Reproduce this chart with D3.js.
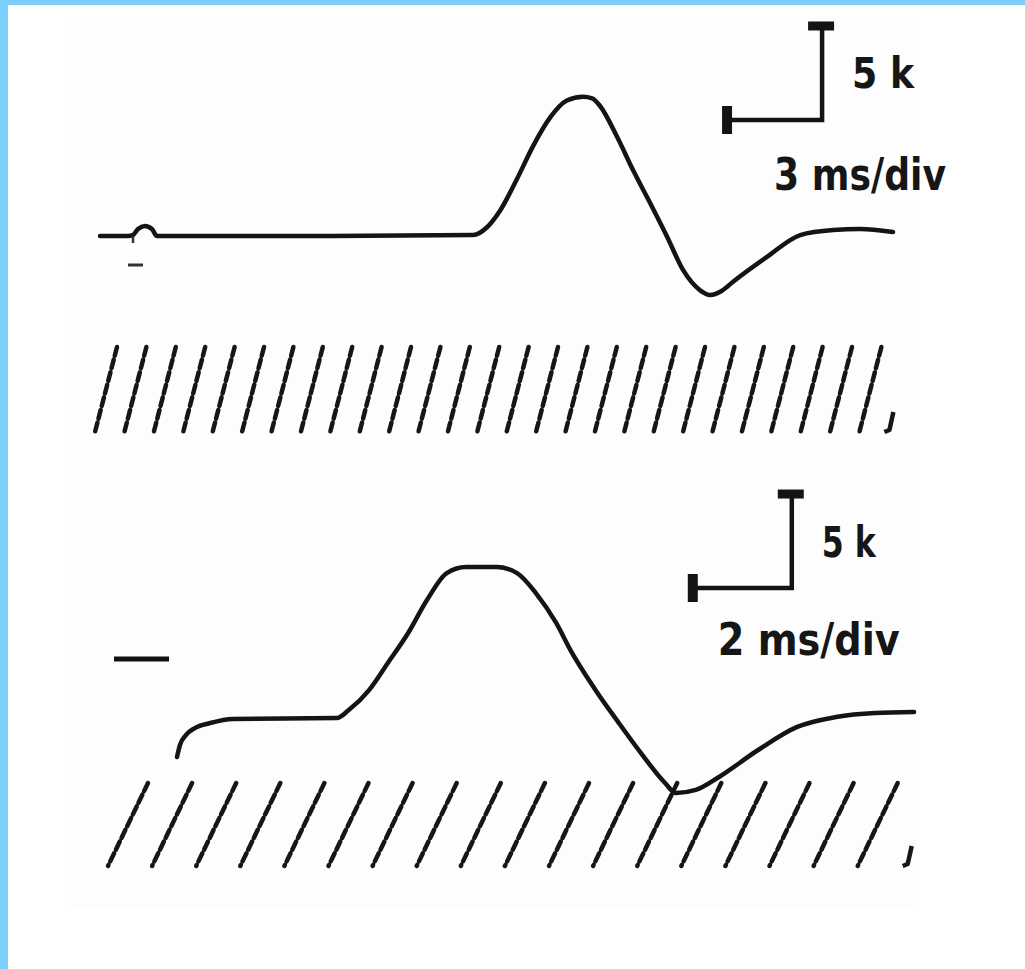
<!DOCTYPE html>
<html>
<head>
<meta charset="utf-8">
<script src="https://cdn.jsdelivr.net/npm/d3@7"></script>
<style>
  body { margin: 0; background: #fff; }
  svg { display: block; }
  .lbl { font-family: "Liberation Sans Narrow", "DejaVu Sans Condensed", "Liberation Sans", sans-serif; font-weight: bold; fill: #161616; }
</style>
</head>
<body>
<script>
// top trace: 3 ms/div, amplitude in k
var topTime = [0, 0.88, 1.04, 1.20, 1.42, 1.64, 1.80, 6.32, 11.78, 12.22, 12.63, 13.17, 13.67, 14.21, 14.74, 15.25, 15.54, 15.79, 16.33, 16.83, 17.37, 17.91, 18.41, 18.95, 19.26, 19.64, 19.99, 21.06, 22.11, 23.15, 24.0, 25.04];
var topAmp  = [0, 0, 0.05, 0.36, 0.52, 0.36, 0, 0, 0.05, 0.45, 1.30, 2.95, 4.62, 6.10, 6.98, 7.18, 7.10, 6.70, 5.10, 3.40, 1.70, -0.05, -1.75, -2.80, -3.04, -2.82, -2.36, -1.08, 0.05, 0.31, 0.36, 0.21];

// bottom trace: 2 ms/div
var botTime = [0, 0.06, 0.18, 0.36, 0.67, 1.13, 3.23, 3.47, 3.88, 4.26, 4.67, 5.05, 5.45, 5.84, 6.46, 6.87, 7.25, 7.66, 7.96, 8.44, 8.91, 9.37, 9.86, 10.08, 10.48, 10.95, 11.74, 12.53, 13.31, 14.10, 14.89];
var botAmp  = [-2.01, -1.39, -0.88, -0.52, -0.26, -0.05, 0, 0.41, 1.44, 2.84, 4.38, 6.08, 7.47, 7.78, 7.78, 7.47, 6.44, 4.90, 3.45, 1.50, -0.20, -1.80, -3.35, -3.87, -3.71, -3.04, -1.65, -0.46, 0.05, 0.26, 0.31];

// scale bar labels
var ampLabel = "5 k";
var timeLabels = ["3 ms/div", "2 ms/div"];
var barMs = [3, 2];
var barK = 5;

var width = 1025, height = 969;

var svg = d3.select("body").append("svg")
    .attr("width", width)
    .attr("height", height);

// faint scan background
svg.append("rect").attr("x", 70).attr("y", 18).attr("width", 848).attr("height", 890).attr("fill", "#fdfdfd");
// blue frame
svg.append("rect").attr("x", 0).attr("y", 0).attr("width", width).attr("height", 5).attr("fill", "#7bcffa");
svg.append("rect").attr("x", 0).attr("y", 0).attr("width", 8).attr("height", height).attr("fill", "#7bcffa");

var panels = [
  {time: topTime, amp: topAmp, x0: 100, pxPerMs: 31.67, y0: 236, pxPerK: 19.4,
   bar: [22.8, 5.98], label: timeLabels[0], ms: barMs[0],
   hatch: {first: 117, step: 29.4, n: 27, top: 347, bottom: 432, slant: 22}},
  {time: botTime, amp: botAmp, x0: 177, pxPerMs: 49.5, y0: 718, pxPerK: 19.4,
   bar: [12.42, 6.70], label: timeLabels[1], ms: barMs[1],
   hatch: {first: 148, step: 44.1, n: 18, top: 783, bottom: 866, slant: 40}}
];

panels.forEach(function(p, pi) {
  var x = d3.scaleLinear().domain([0, 1]).range([p.x0, p.x0 + p.pxPerMs]);
  var y = d3.scaleLinear().domain([0, 1]).range([p.y0, p.y0 - p.pxPerK]);

  var pts = p.time.map(function(t, i) { return [t, p.amp[i]]; });

  var line = d3.line()
      .x(function(d) { return x(d[0]); })
      .y(function(d) { return y(d[1]); })
      .curve(d3.curveMonotoneX);

  // hatching under the trace
  var h = p.hatch;
  var g_h = svg.append("g");
  g_h.selectAll("line")
    .data(d3.range(h.n))
    .enter().append("line")
      .attr("x1", function(i) { return h.first + i * h.step; })
      .attr("y1", h.top)
      .attr("x2", function(i) { return h.first + i * h.step - h.slant; })
      .attr("y2", h.bottom)
      .attr("stroke", "#161616")
      .attr("stroke-width", 4.5)
      .attr("stroke-dasharray", "9,4")
      .attr("stroke-linecap", "round");
  // little comma at the end of the hatching
  var cx = h.first + (h.n - 1) * h.step + (pi == 0 ? 12 : 14);
  g_h.append("path")
    .attr("d", "M" + cx + "," + (h.bottom - 20) + " L" + (cx - 4) + "," + (h.bottom - 2) + " L" + (cx - 9) + "," + h.bottom)
    .attr("fill", "none")
    .attr("stroke", "#161616")
    .attr("stroke-width", 4.5)
    .attr("stroke-linejoin", "round");

  // trace
  svg.append("path")
    .datum(pts)
    .attr("d", line)
    .attr("fill", "none")
    .attr("stroke", "#141414")
    .attr("stroke-width", 4.5)
    .attr("stroke-linejoin", "round")
    .attr("stroke-linecap", "round");

  // scale bar
  var bx = x(p.bar[0]), by = y(p.bar[1]);
  var lx = x(p.bar[0] - p.ms), ty = y(p.bar[1] + barK);
  var g_bar = svg.append("g").attr("stroke", "#141414").attr("fill", "none");
  g_bar.append("path")
    .attr("d", "M" + lx + "," + by + " L" + bx + "," + by + " L" + bx + "," + ty)
    .attr("stroke-width", 4.5);
  g_bar.append("line").attr("x1", lx).attr("x2", lx).attr("y1", by - 14).attr("y2", by + 14).attr("stroke-width", 10);
  g_bar.append("line").attr("x1", bx - 14).attr("x2", bx + 12).attr("y1", ty + 3).attr("y2", ty + 3).attr("stroke-width", 9);

  svg.append("text")
    .attr("class", "lbl")
    .attr("x", bx + 30)
    .attr("y", (by + ty) / 2 + 17)
    .attr("font-size", 42)
    .attr("textLength", pi == 0 ? 62 : 54)
    .attr("lengthAdjust", "spacingAndGlyphs")
    .text(ampLabel);

  svg.append("text")
    .attr("class", "lbl")
    .attr("x", pi == 0 ? bx - 48 : bx - 74)
    .attr("y", by + (pi == 0 ? 70 : 67))
    .attr("font-size", 44)
    .attr("textLength", pi == 0 ? 172 : 182)
    .attr("lengthAdjust", "spacingAndGlyphs")
    .text(p.label);
});

// stray marks from the original scan
svg.append("line").attr("x1", 128).attr("x2", 143).attr("y1", 265).attr("y2", 265)
  .attr("stroke", "#333").attr("stroke-width", 3);
svg.append("line").attr("x1", 133).attr("x2", 133).attr("y1", 236).attr("y2", 243)
  .attr("stroke", "#333").attr("stroke-width", 2.5);
svg.append("line").attr("x1", 114).attr("x2", 169).attr("y1", 659).attr("y2", 659)
  .attr("stroke", "#111").attr("stroke-width", 5);
</script>
</body>
</html>
